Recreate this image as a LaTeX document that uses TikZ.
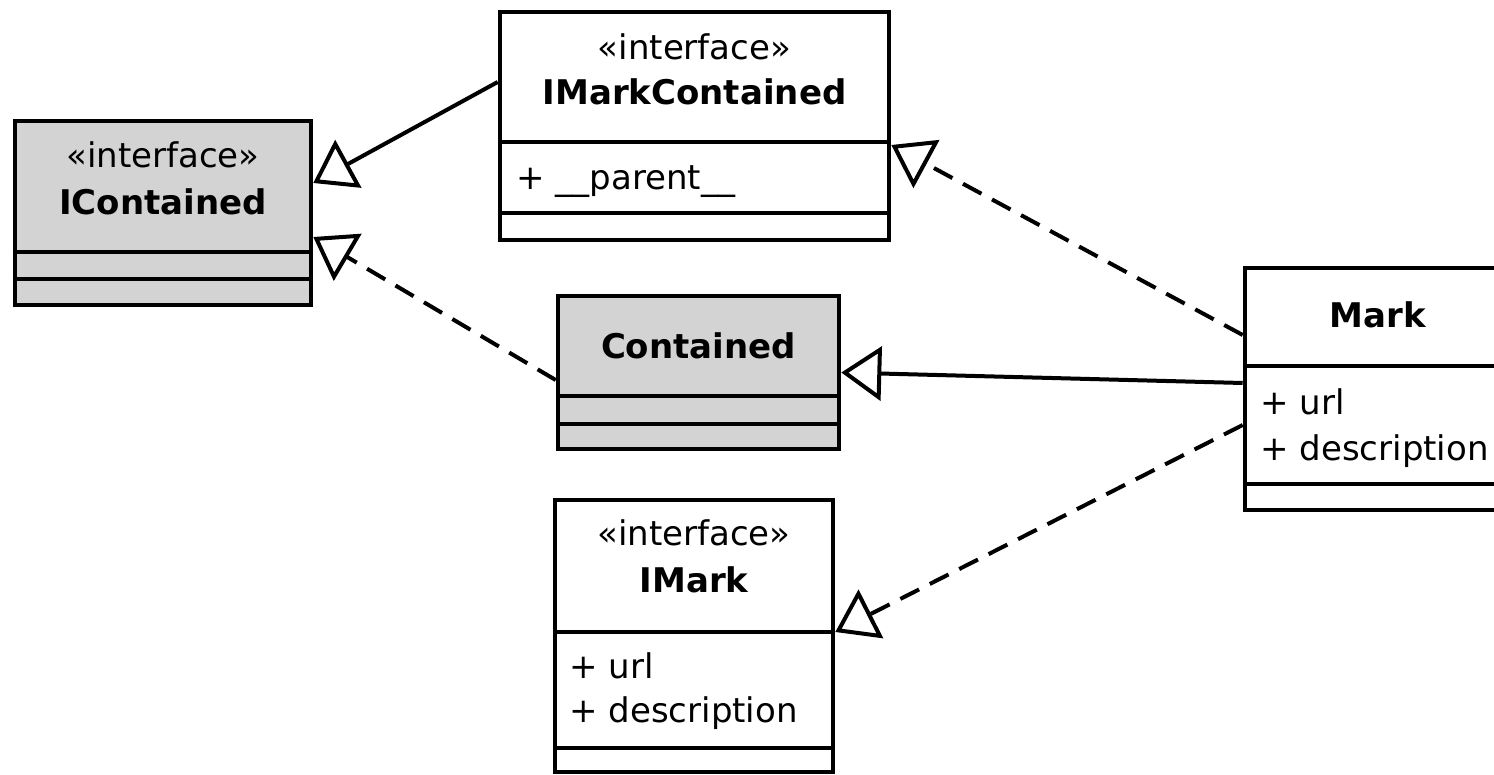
\documentclass[tikz,border=0pt]{standalone}
\usepackage{fontspec}
\setmainfont{DejaVu Sans}
\usetikzlibrary{arrows.meta}
\definecolor{umlgray}{RGB}{211,211,211}
\begin{document}
\begin{tikzpicture}[x=0.5pt,y=-0.5pt,
 classbox/.style={draw=black, line width=2.3pt, fill=white, inner sep=0pt},
 grayfill/.style={fill=umlgray},
 txt/.style={inner sep=0pt, font=\fontsize{17}{20}\selectfont},
 boldtxt/.style={inner sep=0pt, font=\fontsize{17}{20}\selectfont\bfseries},
 divider/.style={line width=2.3pt},
 gen/.style={line width=2pt, -{Triangle[open,length=20pt,width=27pt,line width=2pt]}},
 realize/.style={gen, dash pattern=on 10.5pt off 6pt},
]
\useasboundingbox (0,0) rectangle (1494,775);
\clip (0,0) rectangle (1494,775);

% boxes
\node[classbox, grayfill, minimum width=148pt, minimum height=92pt] (ic) at (163,213) {};
\node[classbox, minimum width=194.5pt, minimum height=114pt] (imc) at (694.5,126) {};
\node[classbox, grayfill, minimum width=140.5pt, minimum height=76.5pt] (c) at (698.5,372.5) {};
\node[classbox, minimum width=133.5pt, minimum height=121pt] (m) at (1378.5,389) {};
\node[classbox, minimum width=139pt, minimum height=136pt] (im) at (694,636) {};

% dividers
\draw[divider] (ic.west |- 0,252) -- (ic.east |- 0,252);
\draw[divider] (ic.west |- 0,279) -- (ic.east |- 0,279);
\draw[divider] (imc.west |- 0,142) -- (imc.east |- 0,142);
\draw[divider] (imc.west |- 0,213) -- (imc.east |- 0,213);
\draw[divider] (c.west |- 0,396) -- (c.east |- 0,396);
\draw[divider] (c.west |- 0,424) -- (c.east |- 0,424);
\draw[divider] (m.west |- 0,366) -- (m.east |- 0,366);
\draw[divider] (m.west |- 0,484) -- (m.east |- 0,484);
\draw[divider] (im.west |- 0,632) -- (im.east |- 0,632);
\draw[divider] (im.west |- 0,748) -- (im.east |- 0,748);

% texts
\node[txt, anchor=base] (ic-st) at (163,168) {«interface»};
\node[boldtxt, anchor=base] (ic-n) at (163,215) {IContained};
\node[txt, anchor=base] (imc-st) at (694.5,60) {«interface»};
\node[boldtxt, anchor=base] (imc-n) at (694.5,105) {IMarkContained};
\node[txt, anchor=base west] (imc-a) at (516,190) {+ \_\_parent\_\_};
\node[boldtxt, anchor=base] (c-n) at (698.5,358) {Contained};
\node[boldtxt, anchor=base] (m-n) at (1378,328) {Mark};
\node[txt, anchor=base west] (m-a1) at (1260,415) {+ url};
\node[txt, anchor=base west] (m-a2) at (1260,460) {+ description};
\node[txt, anchor=base] (im-st) at (694,545) {«interface»};
\node[boldtxt, anchor=base] (im-n) at (694,592) {IMark};
\node[txt, anchor=base west] (im-a1) at (569,678) {+ url};
\node[txt, anchor=base west] (im-a2) at (569,722) {+ description};

% connectors
\draw[gen] ([yshift=22pt]imc.west) -- ([yshift=15pt]ic.east);
\draw[realize] ([yshift=-3.75pt]c.west) -- ([yshift=-12pt]ic.east);
\draw[realize] ([yshift=27pt]m.west) -- ([yshift=-9.5pt]imc.east);
\draw[gen] ([yshift=3pt]m.west) -- (c.east);
\draw[realize] ([yshift=-18pt]m.west) -- ([yshift=2pt]im.east);
\end{tikzpicture}
\end{document}
